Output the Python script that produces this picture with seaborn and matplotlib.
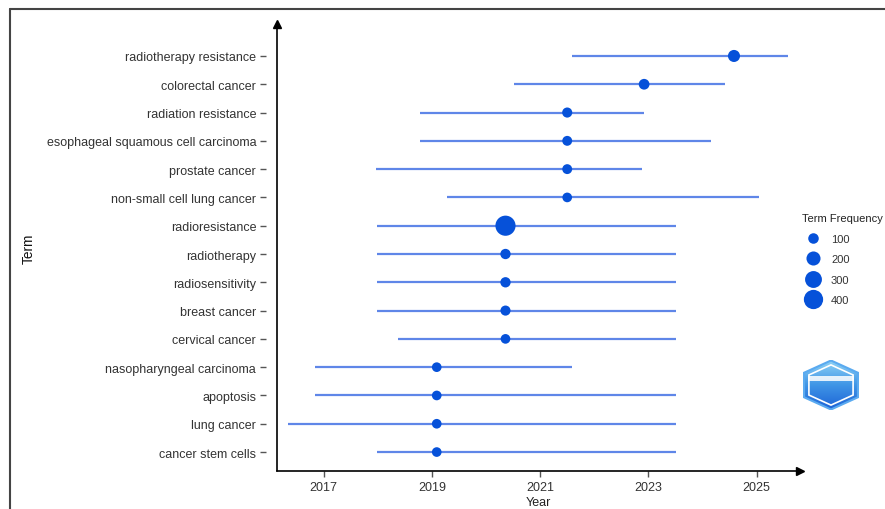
import seaborn as sns
import matplotlib.pyplot as plt
import pandas as pd
import numpy as np
from matplotlib.lines import Line2D
from matplotlib.patches import RegularPolygon

# Trend topics: Q1 year, median year, Q3 year, frequency
terms = ['radiotherapy resistance', 'colorectal cancer', 'radiation resistance',
         'esophageal squamous cell carcinoma', 'prostate cancer',
         'non-small cell lung cancer', 'radioresistance', 'radiotherapy',
         'radiosensitivity', 'breast cancer', 'cervical cancer',
         'nasopharyngeal carcinoma', 'apoptosis', 'lung cancer',
         'cancer stem cells']
year_q1 = [2021.58, 2020.51, 2018.78, 2018.78, 2017.97, 2019.28, 2017.99, 2017.99,
           2017.99, 2017.99, 2018.38, 2016.85, 2016.85, 2016.34, 2017.99]
year_med = [2024.58, 2022.92, 2021.50, 2021.50, 2021.50, 2021.50, 2020.36, 2020.36,
            2020.36, 2020.36, 2020.36, 2019.09, 2019.09, 2019.09, 2019.09]
year_q3 = [2025.58, 2024.42, 2022.92, 2024.15, 2022.89, 2025.04, 2023.50, 2023.50,
           2023.50, 2023.50, 2023.50, 2021.58, 2023.50, 2023.50, 2023.50]
freq = [140, 105, 90, 85, 85, 80, 440, 95, 95, 90, 80, 80, 80, 80, 80]
legend_breaks = [100, 200, 300, 400]
year_ticks = [2017, 2019, 2021, 2023, 2025]

df = pd.DataFrame({'Term': terms, 'q1': year_q1, 'med': year_med,
                   'q3': year_q3, 'Term Frequency': freq})
df['pos'] = np.arange(len(df))[::-1]

LINE_C = '#5f86e8'
DOT_C = '#0651d9'
SIZES = (35, 215)
NORM = (50, 450)


def area(f):
    return SIZES[0] + (SIZES[1] - SIZES[0]) * (f - NORM[0]) / (NORM[1] - NORM[0])


sns.set_style("ticks")
plt.rcParams['font.family'] = ['Liberation Sans', 'DejaVu Sans']

fig = plt.figure(figsize=(8.85, 5.1), dpi=100)
ax = fig.add_axes([0.313, 0.0745, 0.591, 0.8765])

ax.hlines(df['pos'], df['q1'], df['q3'], color=LINE_C, lw=1.6, zorder=2)
sns.scatterplot(data=df, x='med', y='pos', size='Term Frequency', sizes=SIZES,
                size_norm=NORM, color=DOT_C, edgecolor='none', legend=False,
                ax=ax, zorder=3)

ax.set_xlim(2016.14, 2025.8)
ax.set_ylim(-0.67, 15.13)
ax.set_xticks(year_ticks)
ax.set_yticks(df['pos'])
ax.set_yticklabels(df['Term'])
ax.tick_params(axis='both', labelsize=9, labelcolor='#333333', colors='#555555',
               length=4, width=1, direction='out')
ax.tick_params(axis='y', pad=3)
ax.tick_params(axis='x', pad=3)
ax.set_xlabel('Year', fontsize=9, color='#222222', labelpad=2)
ax.set_ylabel('Term', fontsize=9.8, color='#111111', labelpad=8)

for s in ['top', 'right']:
    ax.spines[s].set_visible(False)
ax.spines['left'].set_position(('outward', 8))
ax.spines['left'].set_color('none')
ax.spines['bottom'].set_color('black')
ax.spines['bottom'].set_linewidth(1.2)
# axis arrows
ax.plot([0, 0], [0, 1], color='black', lw=1.2, transform=ax.transAxes, clip_on=False)
ax.plot(0, 1, '^', color='black', ms=6, transform=ax.transAxes, clip_on=False)
ax.plot(1, 0, '>', color='black', ms=6, transform=ax.transAxes, clip_on=False)

# legend for term frequency
handles = [Line2D([], [], marker='o', ls='', color=DOT_C, mec='none',
                  markersize=np.sqrt(area(b))) for b in legend_breaks]
leg = fig.legend(handles, [str(b) for b in legend_breaks], title='Term Frequency',
                 loc='upper left', bbox_to_anchor=(0.895, 0.6), frameon=False,
                 fontsize=8, title_fontsize=8, labelspacing=0.95,
                 handletextpad=0.6, alignment='left')
leg.get_title().set_color('#222222')
for t in leg.get_texts():
    t.set_color('#333333')

# hexagon badge in the corner
lax = fig.add_axes([803 / 885, 1 - 411 / 510, 56 / 885, 50 / 510])
lax.set_xlim(-0.9, 0.9)
lax.set_ylim(-1.02, 1.02)
lax.axis('off')
hexo = RegularPolygon((0, 0), 6, radius=1.0, facecolor='none',
                      edgecolor='#5aaaf0', lw=1.5)
lax.add_patch(hexo)
grad = np.linspace(0, 1, 100).reshape(-1, 1)
img = lax.imshow(grad, extent=(-0.9, 0.9, -1, 1), cmap=sns.blend_palette(
    ['#1c62d6', '#3f95e6', '#8fd3f6'], as_cmap=True), origin='lower', aspect='auto')
img.set_clip_path(hexo)
lax.add_patch(RegularPolygon((0, 0), 6, radius=0.82, facecolor='none',
                             edgecolor='white', lw=1.2))
lax.add_patch(plt.Rectangle((-0.75, 0.15), 1.5, 0.22, facecolor='white',
                            edgecolor='none', alpha=0.85))

# outer frame
fig.add_artist(Line2D([10 / 885, 1], [1 - 10 / 510] * 2, color='#444444', lw=1.5))
fig.add_artist(Line2D([10 / 885] * 2, [0, 1 - 10 / 510], color='#444444', lw=1.5))

fig.savefig('out.png', dpi=100, facecolor='white')
